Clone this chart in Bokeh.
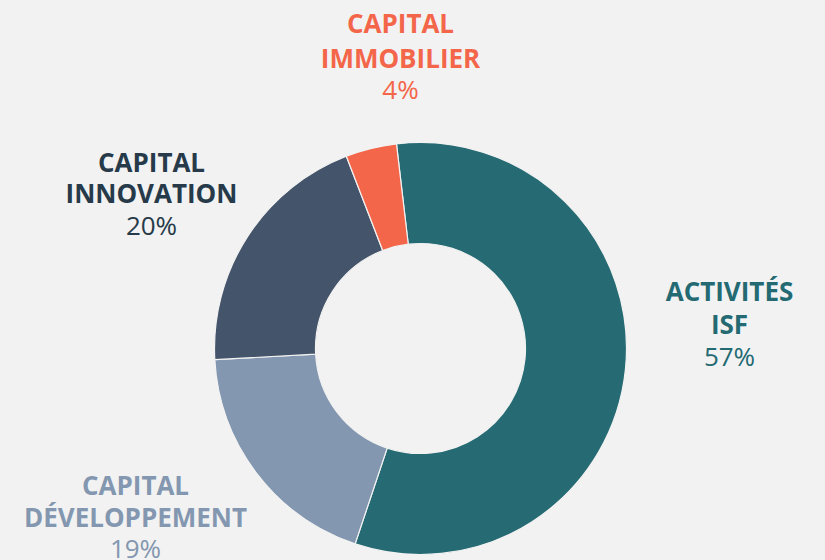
from bokeh.plotting import figure
from bokeh.models import ColumnDataSource
from bokeh.embed import file_html
from bokeh.resources import INLINE
from bokeh.core.properties import value
import math

# ---- data ----
names = ["ACTIVITÉS ISF", "CAPITAL DÉVELOPPEMENT", "CAPITAL INNOVATION", "CAPITAL IMMOBILIER"]
title_lines = [["ACTIVITÉS", "ISF"], ["CAPITAL", "DÉVELOPPEMENT"], ["CAPITAL", "INNOVATION"], ["CAPITAL", "IMMOBILIER"]]
shares = [57, 19, 20, 4]
colors = ["#266B73", "#8497B0", "#44546A", "#F4664A"]
label_colors = ["#236A72", "#8497B0", "#263A4A", "#F4664A"]

# ---- layout ----
W, H = 825, 560
BG = "#F2F2F2"
cx, cy = 420, H - 348
r_out, r_in = 206, 105
start_deg = 96.7  # first slice starts just left of the top, going clockwise

# label anchor (center x, centers of the 3 lines) in screen coords (y down)
label_pos = [
    (729, [290, 323, 355]),
    (135, [484, 516, 547]),
    (151, [161, 192, 224]),
    (400, [22, 57, 88]),
]

total = float(sum(shares))
starts, ends = [], []
acc = 0.0
for s in shares:
    a0 = math.radians(start_deg - acc / total * 360.0)
    a1 = math.radians(start_deg - (acc + s) / total * 360.0)
    starts.append(a0)
    ends.append(a1)
    acc += s

src = ColumnDataSource(dict(start=starts, end=ends, color=colors, name=names))

p = figure(width=W, height=H, x_range=(0, W), y_range=(0, H),
           output_backend="svg", toolbar_location=None, min_border=0)
p.axis.visible = False
p.grid.visible = False
p.outline_line_color = None
p.background_fill_color = BG
p.border_fill_color = BG

p.annular_wedge(x=cx, y=cy, inner_radius=r_in, outer_radius=r_out,
                start_angle="start", end_angle="end", direction="clock",
                fill_color="color", line_color=BG, line_width=1.2, source=src)

tx, ty, tt, tc = [], [], [], []
px, py, pt, pc = [], [], [], []
for (x, ys), lines, s, c in zip(label_pos, title_lines, shares, label_colors):
    for yy, ln in zip(ys[:2], lines):
        tx.append(x); ty.append(H - yy); tt.append(ln); tc.append(c)
    px.append(x); py.append(H - ys[2]); pt.append(f"{s}%"); pc.append(c)

p.text(x=tx, y=ty, text=tt, text_color=tc, text_align="center",
       text_baseline="middle", text_font=value("Open Sans"),
       text_font_style="bold", text_font_size="26px")
p.text(x=px, y=py, text=pt, text_color=pc, text_align="center",
       text_baseline="middle", text_font=value("Open Sans"),
       text_font_size="26px")

html = file_html(p, INLINE)
html = html.replace("</head>", "<style>html,body{background:#F2F2F2;}</style></head>", 1)
open("out.html", "w").write(html)
